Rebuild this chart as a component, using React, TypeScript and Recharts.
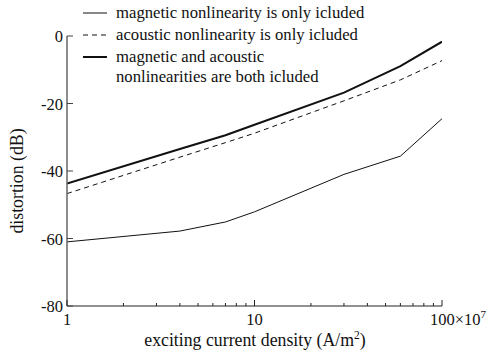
import React from 'react';
import { LineChart, Line, XAxis, YAxis } from 'recharts';

// exciting current density, in units of 10^7 A/m^2
const density = [1, 4, 7, 10, 30, 60, 100];
const magneticOnly = [-61.0, -57.8, -55.1, -52.1, -41.0, -35.6, -24.5];
const acousticOnly = [-46.7, -35.9, -31.6, -28.8, -19.2, -13.0, -7.3];
const bothIncluded = [-43.7, -33.5, -29.4, -26.3, -16.8, -8.9, -1.7];

const xTicks = [1, 2, 3, 4, 5, 6, 7, 8, 9, 10, 20, 30, 40, 50, 60, 70, 80, 90, 100];
const yTicks = [-80, -60, -40, -20, 0];

const data = density.map((d, i) => ({
  d,
  magnetic: magneticOnly[i],
  acoustic: acousticOnly[i],
  both: bothIncluded[i],
}));

const FONT = 'Liberation Serif';

function XTick(props: any) {
  const { x, y, payload } = props;
  const v = payload.value;
  const major = v === 1 || v === 10 || v === 100;
  return (
    <g>
      <line x1={x} x2={x} y1={y} y2={y - (major ? 6 : 3)} stroke="#222" strokeWidth={1} />
      {major && (
        <text x={v === 100 ? x - 12 : x} y={y + 19} fontFamily={FONT} fontSize={16.5} fill="#111" textAnchor={v === 100 ? 'start' : 'middle'}>
          {v === 100 ? (
            <>
              100×10<tspan fontSize={11} dy={-7}>7</tspan>
            </>
          ) : (
            String(v)
          )}
        </text>
      )}
    </g>
  );
}

function YTick(props: any) {
  const { x, y, payload } = props;
  return (
    <g>
      <line x1={x} x2={x + 6} y1={y} y2={y} stroke="#444" strokeWidth={1} />
      <text x={x - 4} y={y + 6} fontFamily={FONT} fontSize={16.5} fill="#111" textAnchor="end">
        {String(payload.value)}
      </text>
    </g>
  );
}

const legendItems = [
  { label: ['magnetic nonlinearity is only icluded'], width: 1, dash: undefined },
  { label: ['acoustic nonlinearity is only icluded'], width: 1, dash: '5 4' },
  { label: ['magnetic and acoustic', 'nonlinearities are both icluded'], width: 2, dash: undefined },
];

export default function App() {
  return (
    <div style={{ position: 'absolute', left: 0, top: 0, width: 493, height: 354, background: '#fff' }}>
      <LineChart width={493} height={354} data={data} margin={{ top: 36, right: 51, bottom: 18, left: 27 }}>
        <XAxis
          dataKey="d"
          type="number"
          scale="log"
          domain={[1, 100]}
          ticks={xTicks}
          interval={0}
          height={30}
          tickSize={0}
          tickMargin={0}
          tickLine={false}
          axisLine={{ stroke: '#222', strokeWidth: 1 }}
          tick={<XTick />}
          allowDataOverflow
        />
        <YAxis
          type="number"
          domain={[-80, 0]}
          ticks={yTicks}
          interval={0}
          width={40}
          tickSize={0}
          tickMargin={0}
          tickLine={false}
          axisLine={{ stroke: '#666', strokeWidth: 1.5 }}
          tick={<YTick />}
        />
        <Line type="linear" dataKey="magnetic" stroke="#111" strokeWidth={1} dot={false} isAnimationActive={false} />
        <Line type="linear" dataKey="acoustic" stroke="#111" strokeWidth={1} strokeDasharray="5 4" dot={false} isAnimationActive={false} />
        <Line type="linear" dataKey="both" stroke="#111" strokeWidth={2} dot={false} isAnimationActive={false} />
        {/* legend, drawn above the plot */}
        <g>
          {legendItems.map((item, i) => {
            const cy = 13 + i * 22;
            return (
              <g key={i}>
                <line x1={83} x2={107} y1={cy} y2={cy} stroke="#111" strokeWidth={item.width} strokeDasharray={item.dash} />
                {item.label.map((t, j) => (
                  <text key={j} x={116} y={cy + 5 + j * 20} fontFamily={FONT} fontSize={16.7} fill="#111">
                    {t}
                  </text>
                ))}
              </g>
            );
          })}
        </g>
        <text x={255} y={346} fontFamily={FONT} fontSize={17.8} fill="#111" textAnchor="middle">
          exciting current density (A/m<tspan fontSize={11.5} dy={-7}>2</tspan><tspan dy={7}>)</tspan>
        </text>
        <text x={23} y={181} fontFamily={FONT} fontSize={17.8} fill="#111" textAnchor="middle" transform="rotate(-90 23 181)">
          distortion (dB)
        </text>
      </LineChart>
    </div>
  );
}
